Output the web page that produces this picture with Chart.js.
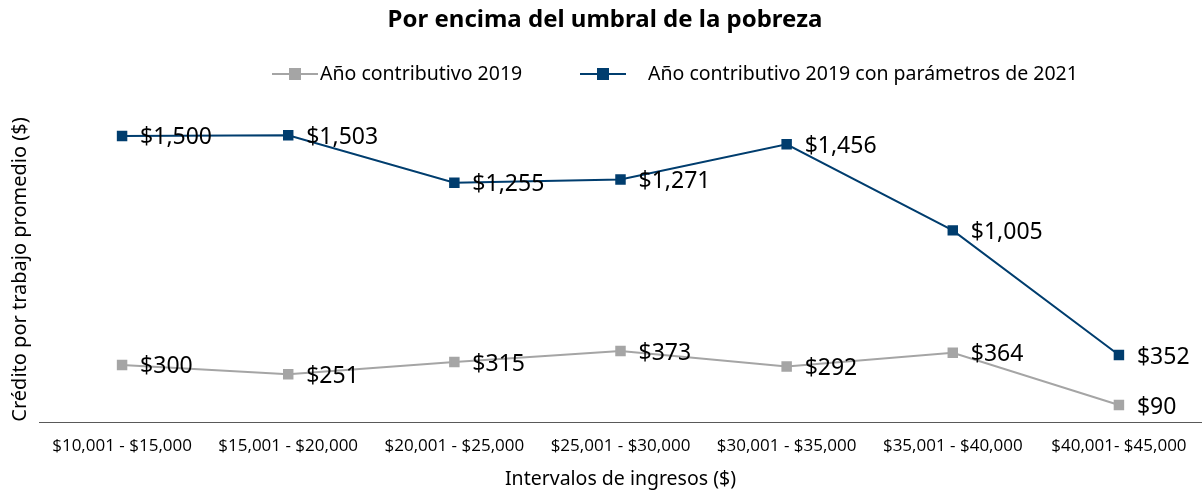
<!DOCTYPE html>
<html>
<head>
<meta charset="utf-8">
<script src="https://cdn.jsdelivr.net/npm/chart.js@4"></script>
<style>
  html, body { margin: 0; padding: 0; background: #fff; }
  #wrap { width: 1202px; height: 493px; position: relative; }
</style>
</head>
<body>
<div id="wrap"><canvas id="c" width="1202" height="493"></canvas></div>
<script>
const categories = ["$10,001 - $15,000", "$15,001 - $20,000", "$20,001 - $25,000", "$25,001 - $30,000", "$30,001 - $35,000", "$35,001 - $40,000", "$40,001- $45,000"];
const series2019 = [300, 251, 315, 373, 292, 364, 90];
const series2021 = [1500, 1503, 1255, 1271, 1456, 1005, 352];
const seriesNames = ["Año contributivo 2019", "Año contributivo 2019 con parámetros de 2021"];
const chartTitle = "Por encima del umbral de la pobreza";
const xTitle = "Intervalos de ingresos ($)";
const yTitle = "Crédito por trabajo promedio ($)";

const GRAY = "#A5A5A5";
const BLUE = "#003D6E";

// legend layout (style only): marker start x and text start x per entry, row centre y
const legendLayout = { y: 74, items: [{ mx: 272, tx: 320 }, { mx: 580, tx: 648 }] };

const fmt = v => "$" + v.toLocaleString("en-US");

const labelPlugin = {
  id: "valueLabels",
  afterDatasetsDraw(chart) {
    const ctx = chart.ctx;
    ctx.save();
    ctx.font = "23px 'Noto Sans'";
    ctx.fillStyle = "#000";
    ctx.textAlign = "left";
    ctx.textBaseline = "middle";
    chart.data.datasets.forEach((ds, i) => {
      const meta = chart.getDatasetMeta(i);
      meta.data.forEach((pt, j) => {
        ctx.fillText(fmt(ds.data[j]), pt.x + 18, pt.y + 2);
      });
    });
    ctx.restore();
  }
};

const legendPlugin = {
  id: "customLegend",
  afterDraw(chart) {
    const ctx = chart.ctx;
    ctx.save();
    ctx.font = "19.5px 'Noto Sans'";
    ctx.textAlign = "left";
    ctx.textBaseline = "middle";
    chart.data.datasets.forEach((ds, i) => {
      const it = legendLayout.items[i];
      const y = legendLayout.y;
      ctx.strokeStyle = ds.borderColor;
      ctx.lineWidth = 2;
      ctx.beginPath(); ctx.moveTo(it.mx, y); ctx.lineTo(it.mx + 46, y); ctx.stroke();
      ctx.fillStyle = ds.borderColor;
      ctx.fillRect(it.mx + 17, y - 6, 12, 12);
      ctx.fillStyle = "#000";
      ctx.fillText(ds.label, it.tx, y);
    });
    ctx.restore();
  }
};

new Chart(document.getElementById("c"), {
  type: "line",
  data: {
    labels: categories,
    datasets: [
      { label: seriesNames[0], data: series2019, borderColor: GRAY, backgroundColor: GRAY,
        borderWidth: 2, pointStyle: "rect", pointRadius: 6, pointHoverRadius: 6, tension: 0 },
      { label: seriesNames[1], data: series2021, borderColor: BLUE, backgroundColor: BLUE,
        borderWidth: 2, pointStyle: "rect", pointRadius: 6, pointHoverRadius: 6, tension: 0 }
    ]
  },
  options: {
    responsive: false,
    animation: false,
    layout: { autoPadding: false, padding: { left: 8, right: 0, top: 2, bottom: 2 } },
    plugins: {
      title: { display: true, text: chartTitle, color: "#000",
        font: { family: "'Noto Sans'", size: 24, weight: "bold" }, padding: { top: 4, bottom: 82 } },
      legend: { display: false },
      tooltip: { enabled: false }
    },
    scales: {
      x: {
        offset: true,
        afterFit(scale) { scale.paddingLeft = 0; scale.paddingRight = 0; },
        grid: { display: false, drawTicks: false },
        border: { display: true, color: "#595959", width: 1 },
        ticks: { color: "#000", font: { family: "'Open Sans'", size: 17 }, padding: 14, maxRotation: 0, autoSkip: false },
        title: { display: true, text: xTitle, color: "#000", font: { family: "'Noto Sans'", size: 19.5 }, padding: { top: -3, bottom: 0 } }
      },
      y: {
        min: 0, max: 1600,
        grid: { display: false, drawTicks: false },
        border: { display: false },
        ticks: { display: false },
        title: { display: true, text: yTitle, color: "#000", font: { family: "'Noto Sans'", size: 20 }, padding: { top: 0, bottom: 7 } }
      }
    }
  },
  plugins: [labelPlugin, legendPlugin]
});
</script>
</body>
</html>
